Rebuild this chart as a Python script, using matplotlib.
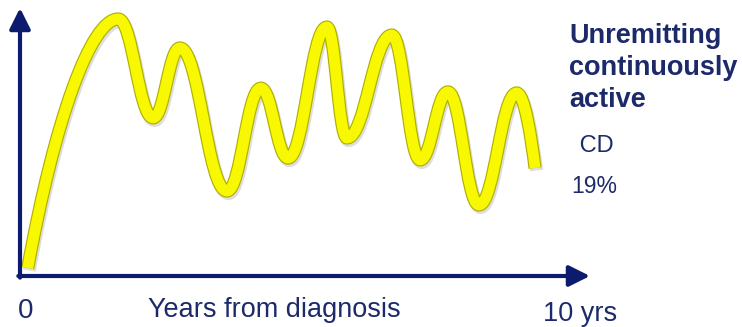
import numpy as np
import matplotlib
matplotlib.use('Agg')
import matplotlib.pyplot as plt
from matplotlib.path import Path
from matplotlib.patches import PathPatch
import matplotlib.transforms as mtransforms

# Disease activity course (peaks and troughs)
years = [0.14, 1.77, 2.40, 2.88, 3.73, 4.34, 4.83, 5.53, 5.89, 6.70, 7.21, 7.71, 8.27, 8.95, 9.28]
activity = [3.0, 95.9, 59.0, 85.1, 31.7, 70.1, 44.0, 92.9, 51.5, 89.9, 43.3, 68.7, 26.5, 68.3, 40.3]

x_start_label = '0'
x_end_label = '10 yrs'
x_title = 'Years from diagnosis'
pattern_lines = ['Unremitting', 'continuously', 'active']
disease = ' CD'
share = '19%'

navy = '#0c1b6e'
text_col = '#1c2a6a'
yellow = '#f8f800'
edge = '#b0b000'

plt.rcParams['font.family'] = ['Liberation Sans', 'DejaVu Sans']

W, H = 742, 327
fig = plt.figure(figsize=(W / 100, H / 100), dpi=100)
fig.patch.set_facecolor('white')

# axes origin at pixel (20, 276), x arrow tip at 590, y arrow tip at 8
ax = fig.add_axes([20 / W, (H - 276) / H, (590 - 20) / W, (276 - 8) / H])
ax.set_xlim(0, 10.27)
ax.set_ylim(0, 100)
ax.axis('off')


def smooth_path(xs, ys, h=0.42):
    # cubic bezier through the extrema, flat tangents at peaks/troughs
    verts = [(xs[0], ys[0])]
    codes = [Path.MOVETO]
    n = len(xs)
    for i in range(n - 1):
        x0, y0, x1, y1 = xs[i], ys[i], xs[i + 1], ys[i + 1]
        dx, dy = x1 - x0, y1 - y0
        if i == 0:
            c1 = (x0 + 0.3 * dx, y0 + 0.6 * dy)
            c2 = (x1 - 0.3 * dx, y1)
        else:
            c1 = (x0 + h * dx, y0)
            c2 = (x1 - h * dx, y1)
        if i == n - 2:
            c2 = (x1 - 0.2 * dx, y1 - 0.4 * dy)
        verts += [c1, c2, (x1, y1)]
        codes += [Path.CURVE4] * 3
    return Path(verts, codes)


path = smooth_path(years, activity)

shadow_tr = mtransforms.offset_copy(ax.transData, fig=fig, x=1.5, y=-2.5, units='dots')
ax.add_patch(PathPatch(path, facecolor='none', edgecolor='#c8c8c8', lw=9.5, alpha=0.6,
                       capstyle='butt', joinstyle='round', transform=shadow_tr, clip_on=False))
ax.add_patch(PathPatch(path, facecolor='none', edgecolor=edge, lw=9.5,
                       capstyle='butt', joinstyle='round', clip_on=False))
ax.add_patch(PathPatch(path, facecolor='none', edgecolor=yellow, lw=7.8,
                       capstyle='butt', joinstyle='round', clip_on=False))

# axes arrows
arrow = dict(arrowstyle='-|>,head_length=0.9,head_width=0.45', color=navy, lw=3,
             shrinkA=0, shrinkB=0, mutation_scale=14)
ax.annotate('', xy=(10.27, 0), xytext=(-0.03, 0), arrowprops=arrow, annotation_clip=False)
ax.annotate('', xy=(0, 100), xytext=(0, -0.6), arrowprops=arrow, annotation_clip=False)


def px(x, y):
    return x / W, 1 - y / H


fig.text(*px(26, 318), x_start_label, fontsize=20, color=text_col, ha='center', va='baseline')
fig.text(*px(274, 317), x_title, fontsize=19.5, color=text_col, ha='center', va='baseline')
fig.text(*px(580, 321), x_end_label, fontsize=19.5, color=text_col, ha='center', va='baseline')

for i, line in enumerate(pattern_lines):
    fig.text(*px(569, 43 + 32 * i), line, fontsize=19.5, fontweight='bold',
             color=text_col, ha='left', va='baseline')
fig.text(*px(573, 152), disease, fontsize=17, color=text_col, ha='left', va='baseline')
fig.text(*px(571, 193), share, fontsize=16.5, color=text_col, ha='left', va='baseline')

fig.savefig('out.png', dpi=100, facecolor='white')
